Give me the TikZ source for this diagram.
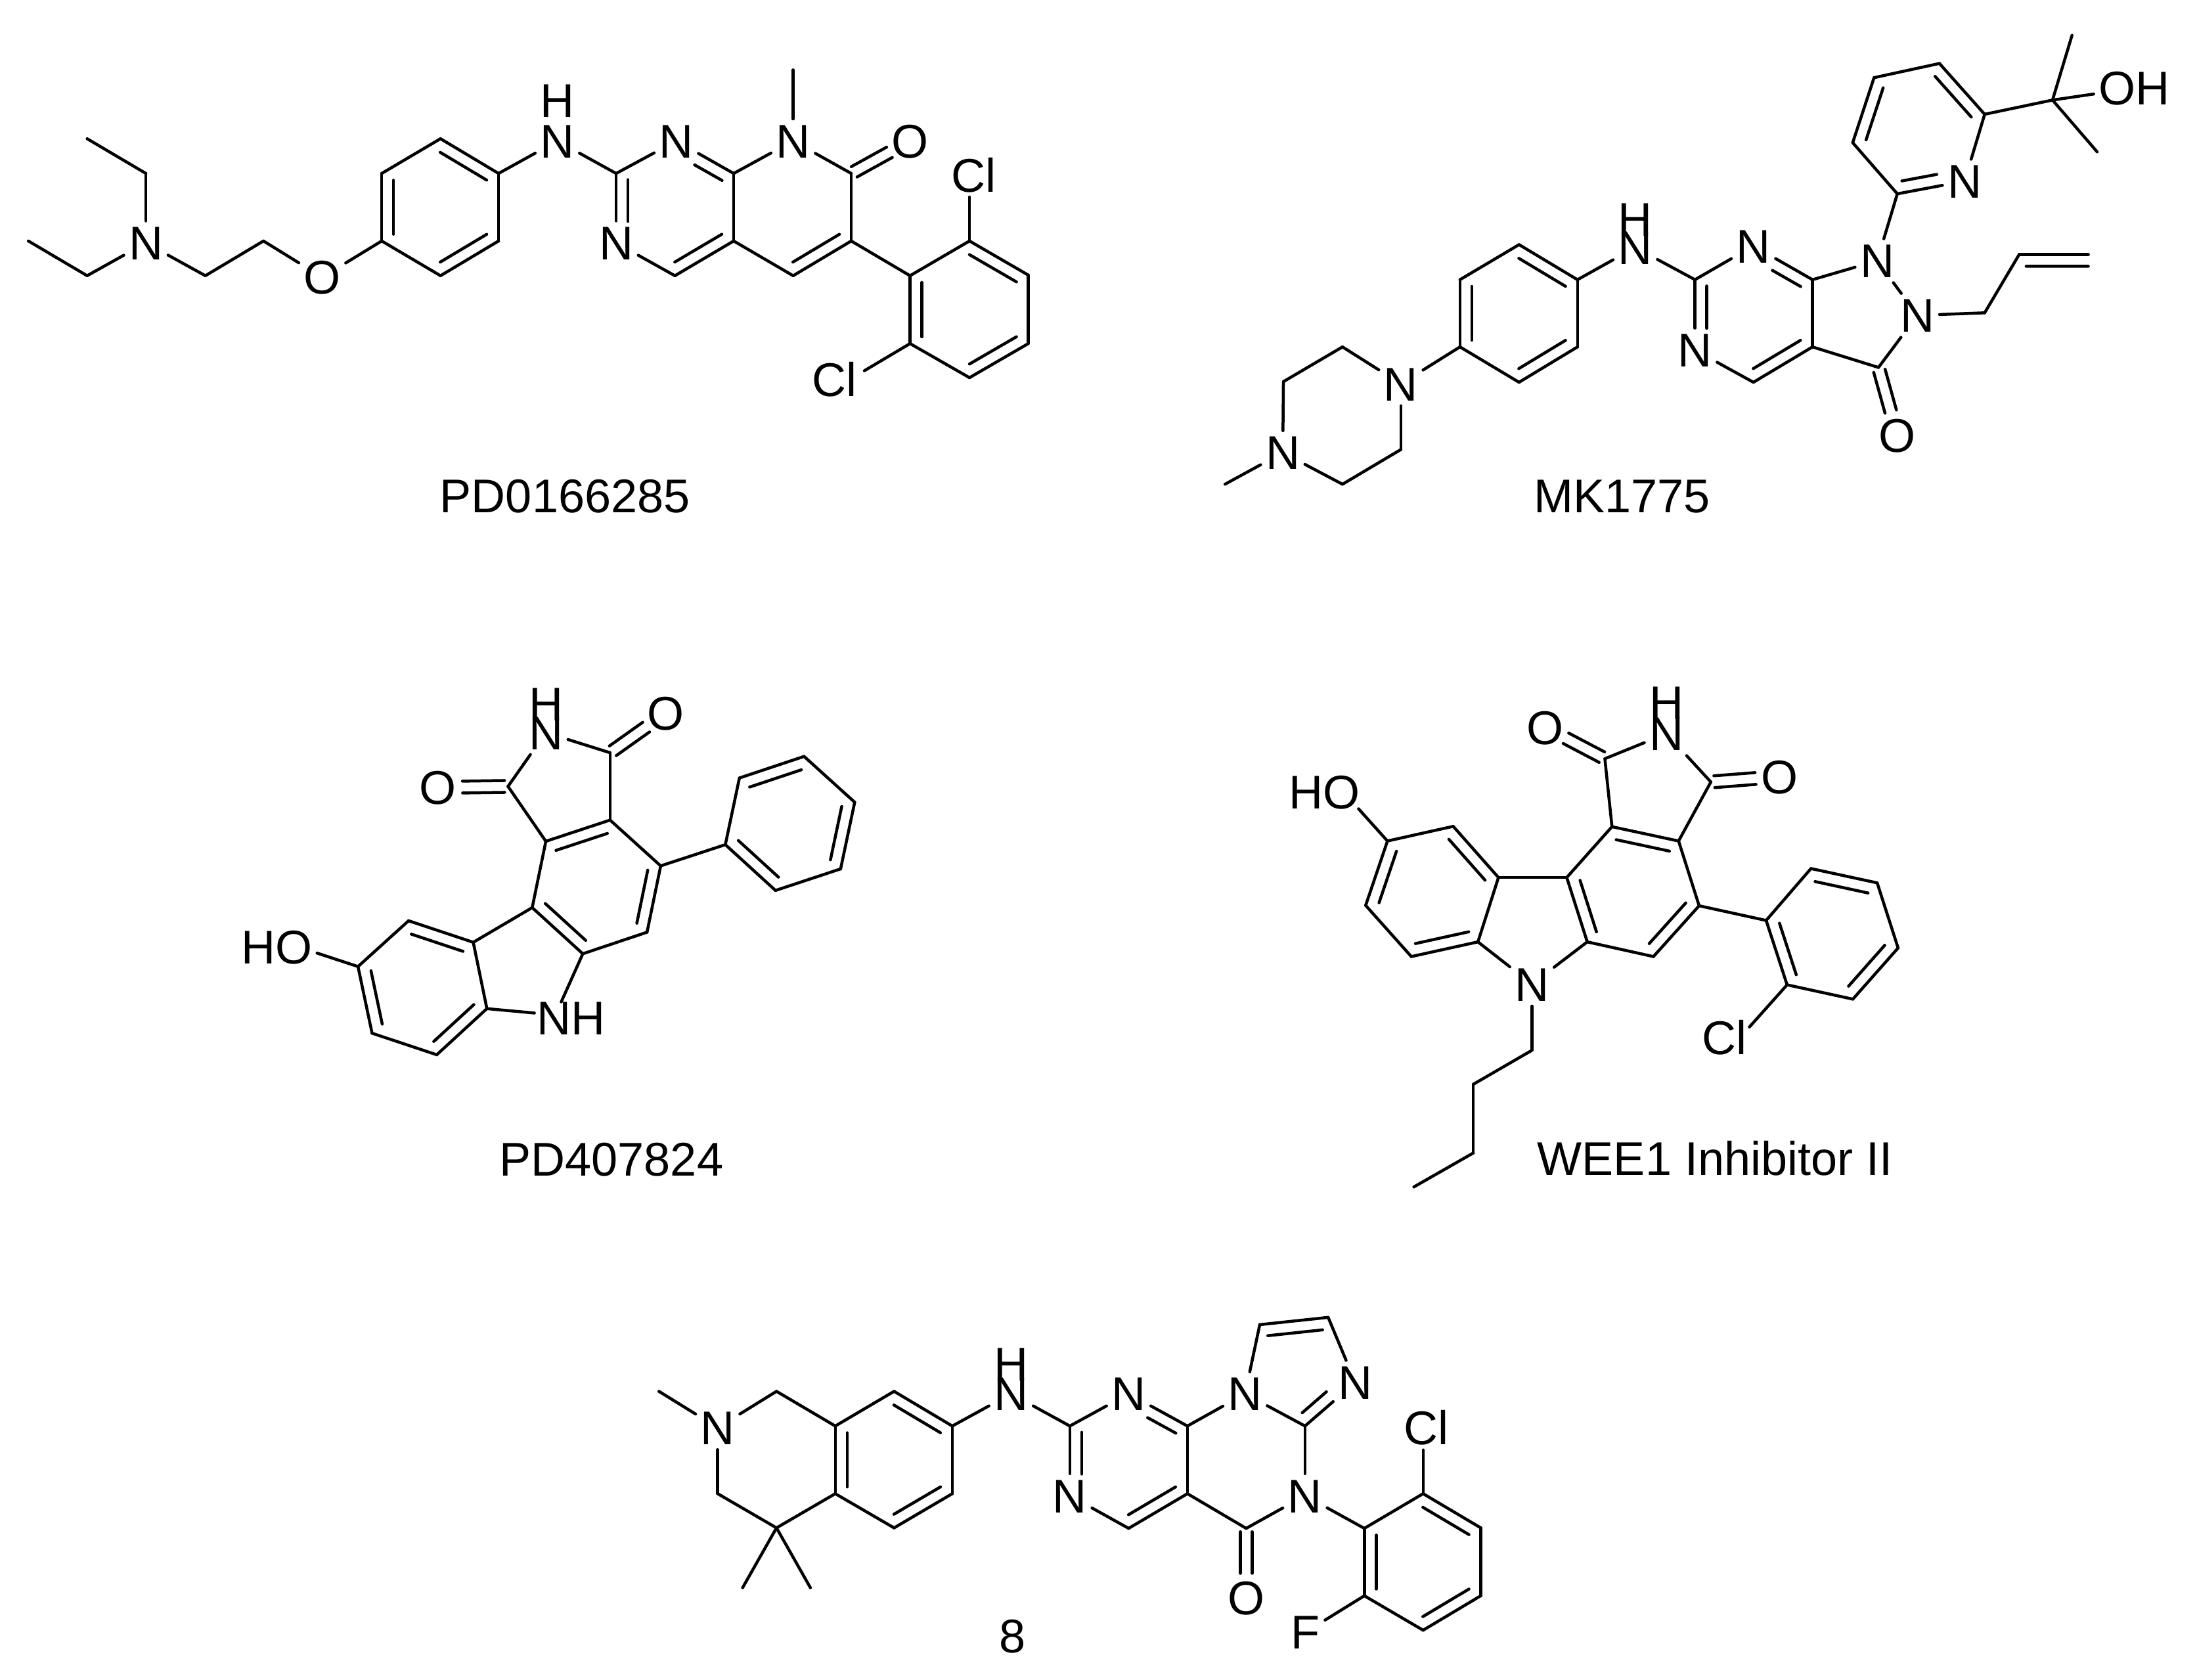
\documentclass[tikz,border=0pt]{standalone}
\usepackage{fontspec}
\setmainfont{Liberation Sans}
\usetikzlibrary{calc}
\def\dsep{.18cm}
\def\hsep{.09cm}
\tikzset{
  bond/.style={line width=.045cm,line cap=round,line join=round,black},
  atom/.style={inner sep=.07cm,text height=.515cm,text depth=0pt,font=\fontsize{20.5}{24}\selectfont},
  caption/.style={inner sep=0pt,text height=.515cm,text depth=0pt,yshift=.04cm,font=\fontsize{20.5}{24}\selectfont},
}
% single bonds, as a list of name pairs
\newcommand{\bonds}[1]{\foreach \p/\q in {#1}{\draw[bond] (\p) -- (\q);}}
% double bond: a->b clockwise round its ring; inner line on the right, with end trims
\newcommand{\dbl}[4]{\draw[bond] (#1) -- (#2);\draw[bond] ($(#1)!#3!(#2)!\dsep!-90:(#2)$) -- ($(#2)!#4!(#1)!\dsep!90:(#1)$);}
% symmetric double bond (C=O)
\newcommand{\dbs}[4]{\draw[bond] ($(#1)!#3!(#2)!\hsep!-90:(#2)$) -- ($(#2)!#4!(#1)!\hsep!90:(#1)$);\draw[bond] ($(#1)!#3!(#2)!\hsep!90:(#2)$) -- ($(#2)!#4!(#1)!\hsep!-90:(#1)$);}
\newcommand{\pts}[1]{\foreach \n/\xx/\yy in {#1}{\coordinate (\n) at (\xx,\yy);}}
\begin{document}
\begin{tikzpicture}
\fill[white] (0,0) rectangle (33.45,-25.57);
\useasboundingbox (0,0) rectangle (33.45,-25.57);

% ---------- PD0166285 ----------
\begin{scope}[x=.010523cm,y=-.004808cm,shift={(0cm,-.8cm)}]
\pts{Aa1/126/273,Aa2/211/383,Aa3/41/597,Aa4/126/707,Ac1/297/707,Ac2/381/597,
 Ar1/552/597,Ar2/552/383,Ar3/637/273,Ar4/721/383,Ar5/721/597,Ar6/637/707,
 Ap1/891/383,Ap2/1061/383,Ap3/1061/597,Ap4/976/707,
 Aq1/1231/383,Aq2/1231/597,Aq3/1147/707,Am/1147/55,
 As1/1316/707,As2/1402/597,As3/1487/705,As4/1487/922,As5/1402/1030,As6/1316/922,
 Acl2end/1250/1008}
\node[atom] (AN1) at (211,603) {N};
\node[atom] (AO1) at (466,712) {O};
\node[atom] (AN2) at (806,280) {N};
\node[atom] (AH) at (806,152) {H};
\node[atom] (AN3) at (978,280) {N};
\node[atom] (AN4) at (891,603) {N};
\node[atom] (AN5) at (1147,280) {N};
\node[atom] (AO2) at (1316,280) {O};
\node[atom] (ACl1) at (1408,388) {Cl};
\node[atom] (ACl2) at (1207,1035) {Cl};
\node[caption] (Alab) at (817,1412) {PD0166285};
\bonds{Aa1/Aa2,Aa2/AN1,Aa3/Aa4,Aa4/AN1,AN1/Ac1,Ac1/Ac2,Ac2/AO1,AO1/Ar1,
 Ar2/Ar3,Ar4/Ar5,Ar6/Ar1,Ar4/AN2,AN2/Ap1,Ap1/AN3,Ap2/Ap3,Ap4/AN4,
 Ap2/AN5,AN5/Aq1,Aq1/Aq2,Aq3/Ap3,AN5/Am,Aq2/As1,
 As1/As2,As3/As4,As5/As6,As6/Acl2end}
\draw[bond] (As2) -- (As2 |- ACl1.south);
\dbl{Ar1}{Ar2}{.1}{.1}\dbl{Ar3}{Ar4}{.1}{.1}\dbl{Ar5}{Ar6}{.1}{.1}
\dbl{AN3}{Ap2}{.42}{.1}\dbl{Ap3}{Ap4}{.1}{.1}\dbl{AN4}{Ap1}{.31}{.09}
\dbl{Aq2}{Aq3}{.1}{.1}
\dbl{As2}{As3}{.1}{.1}\dbl{As4}{As5}{.1}{.1}\dbl{As6}{As1}{.1}{.1}
\dbs{Aq1}{AO2}{.05}{.35}
\end{scope}

% ---------- MK1775 ----------
\begin{scope}[x=.009567cm,y=-.004808cm,shift={(18cm,-.5cm)}]
\pts{Bme/68/1430,Be1/161/1105,Be2/255/995,Be3/348/1320,Be4/255/1430,
 Bb1/442/995,Bb2/442/782,Bb3/536/671,Bb4/629/782,Bb5/629/995,Bb6/536/1107,
 Bp1/816/782,Bp2/1003/782,Bp3/1003/995,Bp4/909/1107,
 Bk/1108/1060,Bal1/1277/887,Bal2/1332/702,Bal3/1442/702,
 Bpy1/1138/510,Bpy2/1067/348,Bpy3/1101/142,Bpy4/1205/97,Bpy5/1277/258,
 Bt/1385/213,Bme1/1416/8,Bme2/1456/377}
\node[atom] (BN7) at (160,1330) {N};
\node[atom] (BN8) at (348,1112) {N};
\node[atom] (BN9) at (721,680) {N};
\node[atom] (BH) at (721,590) {H};
\node[atom] (BN10) at (909,675) {N};
\node[atom] (BN11) at (816,1005) {N};
\node[atom] (BN12) at (1106,722) {N};
\node[atom] (BN13) at (1170,895) {N};
\node[atom] (BN14) at (1245,470) {N};
\node[atom] (BO) at (1138,1275) {O};
\node[atom] (BOH) at (1515,175) {OH};
\node[caption] (Blab) at (700,1475) {MK1775};
\bonds{Bme/BN7,BN7/Be1,Be1/Be2,Be2/BN8,BN8/Be3,Be3/Be4,Be4/BN7,BN8/Bb1,
 Bb2/Bb3,Bb4/Bb5,Bb6/Bb1,Bb4/BN9,BN9/Bp1,Bp1/BN10,Bp2/Bp3,Bp4/BN11,
 Bp2/BN12,BN12/BN13,BN13/Bk,Bk/Bp3,BN13/Bal1,Bal1/Bal2,BN12/Bpy1,
 Bpy1/Bpy2,Bpy3/Bpy4,Bpy5/BN14,Bpy5/Bt,Bt/Bme1,Bt/Bme2,Bt/BOH}
\dbl{Bb1}{Bb2}{.1}{.1}\dbl{Bb3}{Bb4}{.1}{.1}\dbl{Bb5}{Bb6}{.1}{.1}
\dbl{BN10}{Bp2}{.42}{.1}\dbl{Bp3}{Bp4}{.1}{.1}\dbl{BN11}{Bp1}{.31}{.09}
\dbl{Bpy2}{Bpy3}{.1}{.1}\dbl{Bpy4}{Bpy5}{.1}{.1}\dbl{BN14}{Bpy1}{.38}{.1}
\dbl{Bal2}{Bal3}{.1}{0}
\dbs{Bk}{BO}{.05}{.35}
\end{scope}

% ---------- PD407824 ----------
\begin{scope}[x=.006697cm,y=-.005128cm,shift={(3.2cm,-10cm)}]
\pts{Ci1/677/385,Ci2/909/285,
 Cc1/763/548,Cc2/909/485,Cc3/1024/621,Cc4/993/818,Cc5/847/882,Cc6/732/745,
 Cph1/1171/558,Cph2/1203/360,Cph3/1350/296,Cph4/1465/432,Cph5/1433/630,Cph6/1285/694,
 Cd1/598/848,Cd2/629/1045,Cd3/515/1182,Cd4/368/1118,Cd5/336/920,Cd6/451/784,
 Cnhtop/798/1025,Cnhleft/737/1058,Choend/243/880}
\node[atom] (CN) at (763,225) {N};
\node[atom] (CH) at (763,140) {H};
\node[atom] (CO1) at (518,388) {O};
\node[atom] (CO2) at (1035,168) {O};
\node[atom] (CNH) at (820,1072) {NH};
\node[atom] (CHO) at (151,861) {HO};
\node[caption] (Clab) at (912,1500) {PD407824};
\bonds{Ci1/CN,CN/Ci2,Ci1/Cc1,Ci2/Cc2,Cc2/Cc3,Cc4/Cc5,Cc6/Cc1,Cc3/Cph1,
 Cph1/Cph2,Cph3/Cph4,Cph5/Cph6,Cc6/Cd1,Cc5/Cnhtop,Cd2/Cnhleft,
 Cd1/Cd2,Cd3/Cd4,Cd5/Cd6,Cd5/Choend}
\dbl{Cc1}{Cc2}{.1}{.1}\dbl{Cc3}{Cc4}{.1}{.1}\dbl{Cc5}{Cc6}{.1}{.1}
\dbl{Cph2}{Cph3}{.1}{.1}\dbl{Cph4}{Cph5}{.1}{.1}\dbl{Cph6}{Cph1}{.1}{.1}
\dbl{Cd2}{Cd3}{.1}{.1}\dbl{Cd4}{Cd5}{.1}{.1}\dbl{Cd6}{Cd1}{.1}{.1}
\dbs{Ci1}{CO1}{.05}{.35}
\dbs{Ci2}{CO2}{.05}{.35}
\end{scope}

% ---------- WEE1 Inhibitor II ----------
\begin{scope}[x=.006378cm,y=-.005449cm,shift={(19.3cm,-10cm)}]
\pts{Di1/805/285,Di2/1058/350,
 Dc1/822/475,Dc2/981/515,Dc3/1030/696,Dc4/921/838,Dc5/763/797,Dc6/714/617,
 Dd1/551/617,Dd2/502/797,Dd3/343/838,Dd4/234/695,Dd5/286/515,Dd6/443/474,
 Db1/631/1100,Db2/491/1195,Db3/491/1387,Db4/349/1482,
 Dph1/1190/737,Dph2/1297/592,Dph3/1455/632,Dph4/1505/814,Dph5/1397/957,Dph6/1240/917,
 Dhoend/217/425,Dclend/1150/1035}
\node[atom] (DN) at (952,215) {N};
\node[atom] (DH) at (952,128) {H};
\node[atom] (DO1) at (662,197) {O};
\node[atom] (DO2) at (1222,335) {O};
\node[atom] (DN2) at (631,915) {N};
\node[atom] (DHO) at (135,378) {HO};
\node[atom] (DCl) at (1090,1065) {Cl};
\node[caption] (Dlab) at (1068,1410) {WEE1 Inhibitor II};
\bonds{Di1/DN,DN/Di2,Di1/Dc1,Di2/Dc2,Dc2/Dc3,Dc4/Dc5,Dc6/Dc1,Dc6/Dd1,
 Dc5/DN2,Dd2/DN2,Dd1/Dd2,Dd3/Dd4,Dd5/Dd6,Dd5/Dhoend,
 DN2/Db1,Db1/Db2,Db2/Db3,Db3/Db4,Dc3/Dph1,Dph1/Dph2,Dph3/Dph4,Dph5/Dph6,Dph6/Dclend}
\dbl{Dc1}{Dc2}{.1}{.1}\dbl{Dc3}{Dc4}{.1}{.1}\dbl{Dc5}{Dc6}{.1}{.1}
\dbl{Dd2}{Dd3}{.1}{.1}\dbl{Dd4}{Dd5}{.1}{.1}\dbl{Dd6}{Dd1}{.1}{.1}
\dbl{Dph2}{Dph3}{.1}{.1}\dbl{Dph4}{Dph5}{.1}{.1}\dbl{Dph6}{Dph1}{.1}{.1}
\dbs{Di1}{DO1}{.05}{.35}
\dbs{Di2}{DO2}{.05}{.35}
\end{scope}

% ---------- 8 ----------
\begin{scope}[x=.00861cm,y=-.003699cm,shift={(9.8cm,-19.8cm)}]
\pts{Eme/27/375,Eg1/235/375,Eg2/339/518,Eg3/131/797,Eg4/235/938,Eg5/339/797,
 Ex1/175/1185,Ex2/295/1185,
 Eh1/443/375,Eh2/546/518,Eh3/546/797,Eh4/443/938,
 Ep1/754/518,Ep2/962/518,Ep3/962/797,Ep4/858/940,
 Ew1/1170/518,Ev/1066/940,Eu1/1090/100,Eu2/1211/70,
 Es1/1275/940,Es2/1379/797,Es3/1481/938,Es4/1481/1218,Es5/1379/1360,Es6/1275/1218}
\node[atom] (EN1) at (131,525) {N};
\node[atom] (EN2) at (650,385) {N};
\node[atom] (EH) at (650,262) {H};
\node[atom] (EN3) at (858,385) {N};
\node[atom] (EN4) at (754,805) {N};
\node[atom] (EN5) at (1064,385) {N};
\node[atom] (EN6) at (1170,805) {N};
\node[atom] (EN7) at (1259,338) {N};
\node[atom] (EO) at (1066,1225) {O};
\node[atom] (ECl) at (1385,526) {Cl};
\node[atom] (EF) at (1171,1368) {F};
\node[caption] (Elab) at (652,1395) {8};
\bonds{Eme/EN1,EN1/Eg1,Eg1/Eg2,EN1/Eg3,Eg3/Eg4,Eg4/Eg5,Eg4/Ex1,Eg4/Ex2,
 Eg2/Eh1,Eh2/Eh3,Eh4/Eg5,Eh2/EN2,EN2/Ep1,Ep1/EN3,Ep2/Ep3,Ep4/EN4,
 Ep2/EN5,EN5/Ew1,Ew1/EN6,EN6/Ev,Ev/Ep3,EN5/Eu1,Eu2/EN7,
 EN6/Es1,Es1/Es2,Es3/Es4,Es5/Es6,Es6/EF}
\draw[bond] (Es2) -- (Es2 |- ECl.south);
\dbl{Eh1}{Eh2}{.1}{.1}\dbl{Eh3}{Eh4}{.1}{.1}\dbl{Eg5}{Eg2}{.1}{.1}
\dbl{EN3}{Ep2}{.42}{.1}\dbl{Ep3}{Ep4}{.1}{.1}\dbl{EN4}{Ep1}{.31}{.09}
\dbl{Eu1}{Eu2}{.1}{.1}\dbl{EN7}{Ew1}{.42}{.1}
\dbl{Es2}{Es3}{.1}{.1}\dbl{Es4}{Es5}{.1}{.1}\dbl{Es6}{Es1}{.1}{.1}
\dbs{Ev}{EO}{.05}{.35}
\end{scope}
\end{tikzpicture}
\end{document}
